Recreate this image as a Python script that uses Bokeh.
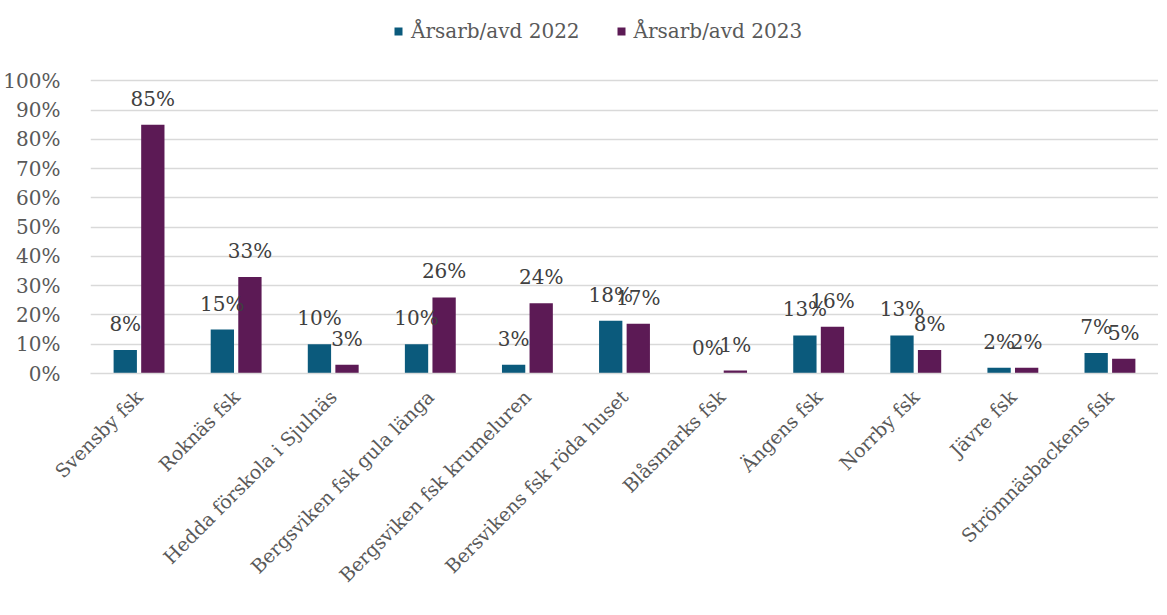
from bokeh.plotting import figure
from bokeh.models import ColumnDataSource, FactorRange, FixedTicker, NumeralTickFormatter, Legend, LegendItem, Range1d
from bokeh.transform import dodge
from bokeh.core.properties import value
from bokeh.embed import file_html
from bokeh.resources import INLINE
import math

categories = ["Svensby fsk", "Roknäs fsk", "Hedda förskola i Sjulnäs", "Bergsviken fsk gula länga",
              "Bergsviken fsk krumeluren", "Bersvikens fsk röda huset", "Blåsmarks fsk", "Ängens fsk",
              "Norrby fsk", "Jävre fsk", "Strömnäsbackens fsk"]
series_names = ["Årsarb/avd 2022", "Årsarb/avd 2023"]
values_2022 = [0.08, 0.15, 0.10, 0.10, 0.03, 0.18, 0.00, 0.13, 0.13, 0.02, 0.07]
values_2023 = [0.85, 0.33, 0.03, 0.26, 0.24, 0.17, 0.01, 0.16, 0.08, 0.02, 0.05]
y_ticks = [i / 10 for i in range(11)]

FONT = "DejaVu Serif"
C1 = "#0b5a7c"
C2 = "#5c1a55"

src = ColumnDataSource(data=dict(
    cat=categories,
    v22=values_2022,
    v23=values_2023,
    l22=[f"{round(v*100)}%" for v in values_2022],
    l23=[f"{round(v*100)}%" for v in values_2023],
))

# y range extends above 100% to leave room for the legend inside the frame
p = figure(x_range=FactorRange(*categories, range_padding=0), y_range=Range1d(0, 1.21),
           width=1158, height=606, output_backend="svg", toolbar_location=None,
           min_border_left=88, min_border_right=0, min_border_bottom=233, min_border_top=19)
p.outline_line_color = None
p.background_fill_color = "white"

r1 = p.vbar(x=dodge("cat", -0.142, range=p.x_range), top="v22", width=0.24, source=src,
            fill_color=C1, line_color=None)
r2 = p.vbar(x=dodge("cat", 0.142, range=p.x_range), top="v23", width=0.24, source=src,
            fill_color=C2, line_color=None)

for xoff, col in [(-0.142, "l22"), (0.142, "l23")]:
    fld = "v22" if col == "l22" else "v23"
    p.text(x=dodge("cat", xoff, range=p.x_range), y=fld, text=col, source=src,
           text_align="center", text_baseline="bottom", y_offset=-14,
           text_font=value(FONT), text_font_size="20px", text_color="#404040")

p.yaxis.ticker = FixedTicker(ticks=y_ticks)
p.yaxis.formatter = NumeralTickFormatter(format="0%")
p.yaxis.axis_line_color = None
p.yaxis.major_tick_line_color = None
p.yaxis.minor_tick_line_color = None
p.yaxis.major_label_standoff = 24
p.yaxis.major_label_text_font = FONT
p.yaxis.major_label_text_font_size = "20px"
p.yaxis.major_label_text_color = "#595959"

p.xaxis.axis_line_color = "#d9d9d9"
p.xaxis.axis_line_width = 1.5
p.xaxis.major_tick_line_color = None
p.xaxis.minor_tick_line_color = None
p.xaxis.major_label_orientation = math.pi / 4
p.xaxis.major_label_standoff = 14
p.xaxis.major_label_text_font = FONT
p.xaxis.major_label_text_font_size = "19px"
p.xaxis.major_label_text_color = "#595959"

p.xgrid.grid_line_color = None
p.ygrid.grid_line_color = "#d9d9d9"
p.ygrid.grid_line_width = 1.5

legend = Legend(items=[LegendItem(label=series_names[0], renderers=[r1]),
                       LegendItem(label=series_names[1], renderers=[r2])],
                orientation="horizontal", location=(303, 330),
                label_text_font=FONT, label_text_font_size="20px", label_text_color="#595959",
                glyph_width=10, glyph_height=10, spacing=36, label_standoff=8,
                border_line_color=None, background_fill_alpha=0, padding=0, margin=0)
p.add_layout(legend, "center")

open("out.html", "w").write(file_html(p, INLINE))
